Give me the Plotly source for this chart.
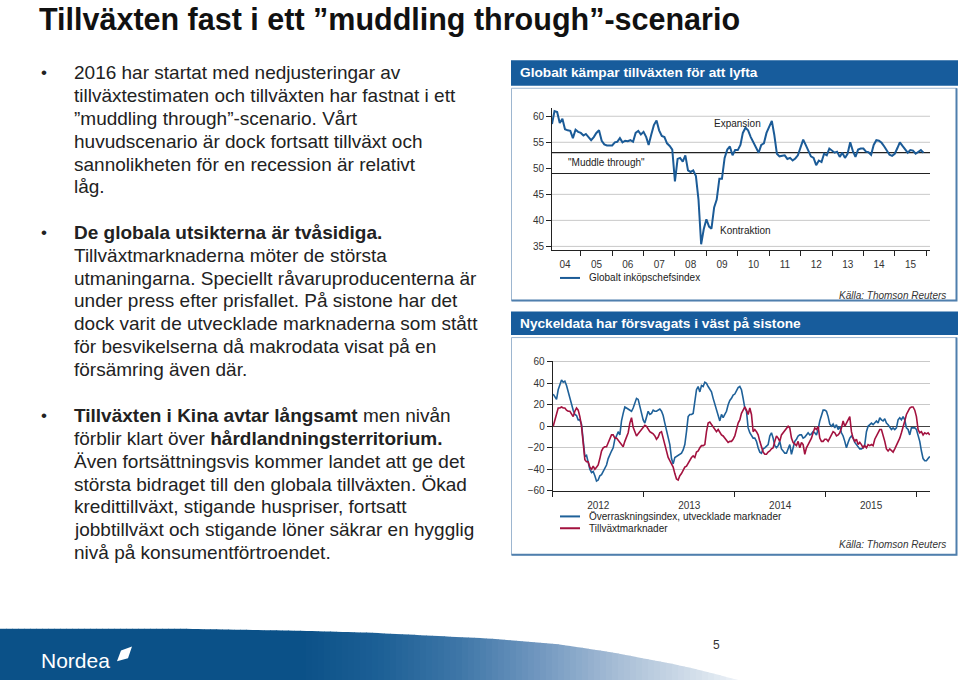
import numpy as np
import pandas as pd
import plotly.graph_objects as go

W, H = 960, 686
FONT = "Liberation Sans, Arial, sans-serif"
TITLE_FONT = "Liberation Sans, Arial, sans-serif"

# ---------------- data ----------------
# Global PMI, monthly from Feb 2004 to Dec 2015
pmi_start = "2004-02-01"
pmi_2004 = [58.5, 61.0, 60.8, 58.7, 59.5, 57.5, 57.3, 57.2, 55.8, 57.4, 57.0]
pmi_2005 = [56.8, 56.3, 56.6, 56.0, 55.4, 56.0, 56.8, 57.3, 55.3, 54.6, 54.4, 54.4]
pmi_2006 = [54.4, 55.0, 55.1, 55.8, 55.0, 55.3, 55.2, 55.4, 55.1, 56.8, 57.2, 56.5]
pmi_2007 = [57.0, 56.0, 54.5, 56.5, 58.3, 59.2, 57.3, 56.2, 56.0, 54.8, 54.3, 53.6]
pmi_2008 = [47.5, 51.8, 52.0, 51.3, 52.5, 49.6, 49.3, 49.6, 48.5, 44.0, 35.4, 38.3]
pmi_2009 = [40.2, 38.8, 38.4, 42.5, 44.0, 48.0, 48.0, 52.0, 53.6, 54.2, 52.5, 53.5]
pmi_2010 = [53.5, 54.5, 56.8, 57.8, 57.3, 56.0, 55.0, 54.2, 53.0, 54.5, 54.8, 56.8]
pmi_2011 = [58.0, 59.1, 56.5, 52.8, 52.3, 52.4, 52.5, 51.8, 52.0, 51.5, 51.9, 52.5]
pmi_2012 = [54.1, 55.5, 54.5, 53.4, 52.3, 52.0, 50.6, 51.5, 51.2, 52.8, 52.5, 53.8]
pmi_2013 = [53.3, 53.0, 53.2, 52.2, 53.0, 52.0, 52.8, 55.0, 53.3, 52.2, 53.6, 53.8]
pmi_2014 = [53.8, 53.2, 53.1, 52.6, 54.5, 55.4, 55.3, 54.9, 54.2, 53.3, 52.6, 52.4]
pmi_2015 = [52.8, 53.9, 55.0, 54.3, 53.7, 53.0, 53.5, 53.4, 52.8, 53.2, 53.5, 53.0]
pmi_values = (pmi_2004 + pmi_2005 + pmi_2006 + pmi_2007 + pmi_2008 + pmi_2009 +
              pmi_2010 + pmi_2011 + pmi_2012 + pmi_2013 + pmi_2014 + pmi_2015)
pmi_dates = pd.date_range(pmi_start, periods=len(pmi_values), freq="MS")

pmi_ticks = [35, 40, 45, 50, 55, 60]
pmi_grid = [35, 40, 45, 55, 60]
muddle_band = [49, 53]

# Economic surprise indices, roughly weekly, Jan 2012 - Feb 2016
surprise_start = "2012-01-03"
surprise_end = "2016-02-23"
dev_surprise = [
    30, 28, 25, 34, 38, 43, 41, 42, 38, 32,
    26, 21, 15, 11, 10, 6, 6, 2, -14, -28,
    -27, -33, -40, -43, -42, -46, -51, -50, -46, -45,
    -42, -40, -36, -30, -26, -23, -20, -12, -9, -5,
    -8, 5, 12, 18, 17, 16, 15, 14, 17, 22,
    26, 25, 18, 12, 6, 3, 8, 14, 11, 12,
    15, 14, 14, 15, 16, 14, 10, 3, -3, -11,
    -17, -30, -35, -29, -28, -27,
    -26, -25, -22, -17, -5, 9, 11, 11, 12, 22,
    34, 37, 32, 38, 37, 41, 40, 37, 35, 32,
    26, 21, 15, 11, 5, 11, 8, 11, 14, 20,
    24, 26, 29, 30, 33, 36, 37, 34, 26, 17,
    14, -1.5, -6, -9, -11, -11, -14, -20, -24, -25,
    -21, -20, -18, -17, -9, -6, -11, -18, -20, -18,
    -14, -21, -23, -25, -25, -21, -17, -26, -20, -14,
    -12, -9, -8, -8, -11, -10, -8, -6, -8, -7,
    -5,
    -6, -8, -3, 5, 11, 15, 15, 14, 9, 2,
    0, 2, -1.5, 1.5, -3, 0, -6, -9, -14, -20,
    -15, -11, -9, -11, -15, -17, -20, -21, -21, -20,
    -17, -5, 0, 1.5, 3, 1.5, 3, 5, 3, 8,
    6, 5, 7, 3, 1.5, -1.5, -3, -1.5, -3, -1.5,
    6, 8, 6, 9, 6, -1.5, -3, -8, -1.5, -1.5,
    -1.5, -3, -8, -14, -23, -30, -32, -32, -30, -28,
]
em_surprise = [
    0, 6, 12, 17, 17, 18, 17, 17, 15, 14,
    14, 11, 9, 14, 17, 15, 9, 0, -15, -31,
    -33, -33, -38, -40, -37, -40, -38, -36, -30, -23,
    -20, -19, -19, -15, -11, -8, -8, -11, -11, -13,
    -15, -17, -19, -14, -10, -6, 3, 8, -1, -6,
    -9, -7, -5, -2, 0, 1, 0, -3, -5, -6,
    -7, -9, -12, -10, -6, -5, -11, -18, -25, -29,
    -32, -35, -38, -44, -49, -50,
    -46, -44, -41, -38, -37, -34, -32, -29, -27.5, -29,
    -24, -23, -20, -18, -18, -17, -5, 3, 4, 1.5,
    0, -3, -5, -3, -6, -8, -9, -11, -14, -15,
    -14, -14, -12, -9, -3, 3, 6, 12, 15, 18,
    15, 11, 17, 11, -5, -3, -5, -8, -14, -20,
    -24, -26, -26, -24, -23, -21, -20, -14, -9, -11,
    -14, -8, -6, -3, -1.5, 0, -1.5, -11, -15, -17,
    -18, -14, -20, -15, -17, -26, -20, -17, -14, -11,
    -6,
    -1.5, -3, 0, -11, -14, -14, -12, -12, -14, -11,
    -8, -5, -6, -9, -8, -6, -1.5, 5, 0, 3,
    6, 9, -5, -11, -14, -12, -17, -15, -17, -20,
    -18, -20, -17, -18, -17, -18, -12, -9, -5, -3,
    -3, -8, -14, -21, -23, -21, -23, -24, -21, -18,
    -15, -11, -6, -1.5, 5, 11, 14, 17, 18, 18,
    15, 9, -3, -6, -5, -8, -6, -7, -6, -8,
]
surprise_dates = pd.date_range(surprise_start, surprise_end, periods=len(dev_surprise))
surprise_ticks = [-60, -40, -20, 0, 20, 40, 60]

# ---------------- helpers (pixel -> paper) ----------------
def px(x):
    return x / W

def py(y):
    return 1 - y / H

BLUE = "#1b5b97"
RED = "#a3123f"
HEAD = "#175c9c"
TXT = "#222222"

fig = go.Figure()
fig.add_trace(go.Scatter(x=pmi_dates, y=pmi_values, mode="lines",
                         line=dict(color=BLUE, width=2), xaxis="x", yaxis="y",
                         name="Globalt inköpschefsindex", showlegend=False))
fig.add_trace(go.Scatter(x=surprise_dates, y=dev_surprise, mode="lines",
                         line=dict(color="#1f6199", width=1.6), xaxis="x2", yaxis="y2",
                         name="Överraskningsindex, utvecklade marknader", showlegend=False))
fig.add_trace(go.Scatter(x=surprise_dates, y=em_surprise, mode="lines",
                         line=dict(color=RED, width=1.6), xaxis="x2", yaxis="y2",
                         name="Tillväxtmarknader", showlegend=False))

tickfont = dict(family=FONT, size=10, color="#333")
common_axis = dict(showline=True, linecolor="#222", linewidth=1, ticks="outside",
                   ticklen=5, tickcolor="#222", zeroline=False, tickfont=tickfont,
                   fixedrange=True)

fig.update_layout(
    width=W, height=H, margin=dict(l=0, r=0, t=0, b=0),
    paper_bgcolor="white", plot_bgcolor="rgba(0,0,0,0)",
    showlegend=False,
    xaxis=dict(domain=[px(552), px(930)], anchor="y", type="date",
               range=["2004-02-01", "2016-02-15"], tick0="2004-01-01", dtick="M12",
               ticklabelmode="period", tickformat="%y", showgrid=False, **common_axis),
    yaxis=dict(domain=[py(250), py(106)], anchor="x", range=[34.24, 61.5],
               tickvals=pmi_ticks, showgrid=False, **common_axis),
    xaxis2=dict(domain=[px(552.7), px(930)], anchor="y2", type="date",
                range=["2012-01-01", "2016-02-24"], tick0="2012-01-01", dtick="M12",
                ticklabelmode="period", tickformat="%Y", showgrid=False, **common_axis),
    yaxis2=dict(domain=[py(494), py(362)], anchor="x2", range=[-60, 61],
                tickvals=surprise_ticks, showgrid=True, gridcolor="#c9c9c9", gridwidth=1,
                **{k: v for k, v in common_axis.items() if k != "zeroline"},
                zeroline=True, zerolinecolor="#444", zerolinewidth=1.2),
)

shapes = []
ann = []

# ---------- footer swoosh (decoration) ----------
sw_x = [0, 180, 300, 370, 490, 560, 612, 674, 700, 738]
sw_y = [634, 634, 636, 638, 644, 650, 658, 670, 676, 686]
col_x = [0, 300, 380, 460, 540, 620, 700, 738]
col_rgb = np.array([[11, 81, 136], [11, 81, 136], [29, 96, 150], [63, 119, 168],
                    [114, 152, 192], [169, 191, 215], [214, 225, 236], [238, 243, 248]])
step = 6
for x0 in range(0, 738, step):
    x1 = min(x0 + step, 738)
    yt0 = np.interp(x0, sw_x, sw_y)
    yt1 = np.interp(x1, sw_x, sw_y)
    xm = (x0 + x1) / 2
    r, g, b = [int(np.interp(xm, col_x, col_rgb[:, k])) for k in range(3)]
    shapes.append(dict(type="path", xref="paper", yref="paper", layer="below",
                       path=f"M{px(x0)},{py(yt0)} L{px(x1 + 0.6)},{py(yt1)} L{px(x1 + 0.6)},0 L{px(x0)},0 Z",
                       fillcolor=f"rgb({r},{g},{b})", line=dict(width=0)))
# Nordea sail mark
shapes.append(dict(type="path", xref="paper", yref="paper",
                   path=f"M{px(117)},{py(667)} L{px(121)},{py(656)} L{px(132)},{py(652)} L{px(128)},{py(664)} Z",
                   fillcolor="white", line=dict(width=0)))
ann.append(dict(text="Nordea", x=px(39), y=py(666), xref="paper", yref="paper",
                xanchor="left", yanchor="middle", showarrow=False,
                font=dict(family=FONT, size=21, color="white")))
ann.append(dict(text="5", x=px(716), y=py(650), xref="paper", yref="paper",
                xanchor="center", yanchor="middle", showarrow=False,
                font=dict(family=FONT, size=12, color="#333")))

# ---------- title ----------
ann.append(dict(text="<b>Tillväxten fast i ett ”muddling through”-scenario</b>",
                x=px(37), y=py(16), xref="paper", yref="paper", xanchor="left",
                yanchor="middle", showarrow=False,
                font=dict(family=TITLE_FONT, size=30.5, color="#111")))

# ---------- bullet texts ----------
bullets = [
    (70, ["2016 har startat med nedjusteringar av",
          "tillväxtestimaten och tillväxten har fastnat i ett",
          "”muddling through”-scenario. Vårt",
          "huvudscenario är dock fortsatt tillväxt och",
          "sannolikheten för en recession är relativt",
          "låg."]),
    (232, ["<b>De globala utsikterna är tvåsidiga.</b>",
           "Tillväxtmarknaderna möter de största",
           "utmaningarna. Speciellt råvaruproducenterna är",
           "under press efter prisfallet. På sistone har det",
           "dock varit de utvecklade marknaderna som stått",
           "för besvikelserna då makrodata visat på en",
           "försämring även där."]),
    (418, ["<b>Tillväxten i Kina avtar långsamt</b> men nivån",
           "förblir klart över <b>hårdlandningsterritorium.</b>",
           "Även fortsättningsvis kommer landet att ge det",
           "största bidraget till den globala tillväxten. Ökad",
           "kredittillväxt, stigande huspriser, fortsatt",
           "jobbtillväxt och stigande löner säkrar en hygglig",
           "nivå på konsumentförtroendet."]),
]
for y0, lines in bullets:
    ann.append(dict(text="•", x=px(39), y=py(y0), xref="paper", yref="paper",
                    xanchor="left", yanchor="middle", showarrow=False,
                    font=dict(family=FONT, size=17, color=TXT)))
    for i, line in enumerate(lines):
        ann.append(dict(text=line, x=px(72), y=py(y0 + i * 23.1), xref="paper", yref="paper",
                        xanchor="left", yanchor="middle", showarrow=False,
                        font=dict(family=FONT, size=19, color=TXT)))

# ---------- chart panels ----------
def panel(htop, hbot, bottom, src_y, title):
    shapes.append(dict(type="rect", xref="paper", yref="paper", layer="below",
                       x0=px(511), x1=px(958), y0=py(hbot), y1=py(htop),
                       fillcolor=HEAD, line=dict(width=0)))
    shapes.append(dict(type="rect", xref="paper", yref="paper", layer="below",
                       x0=px(511.5), x1=px(956.5), y0=py(bottom), y1=py(hbot + 2.5),
                       fillcolor="rgba(0,0,0,0)", line=dict(color="#9db6d0", width=1)))
    shapes.append(dict(type="path", xref="paper", yref="paper", layer="below",
                       path=f"M{px(956.5)},{py(hbot + 2.5)} L{px(956.5)},{py(bottom)} L{px(511.5)},{py(bottom)}",
                       line=dict(color="#4f7fad", width=2)))
    ann.append(dict(text=f"<b>{title}</b>", x=px(518), y=py((htop + hbot) / 2),
                    xref="paper", yref="paper", xanchor="left", yanchor="middle",
                    showarrow=False, font=dict(family=FONT, size=13.7, color="white")))
    ann.append(dict(text="<i>Källa: Thomson Reuters</i>", x=px(948), y=py(src_y),
                    xref="paper", yref="paper", xanchor="right", yanchor="middle",
                    showarrow=False, font=dict(family=FONT, size=10, color="#333")))

panel(57, 83, 301, 296, "Globalt kämpar tillväxten för att lyfta")
panel(312, 336, 559, 548, "Nyckeldata har försvagats i väst på sistone")

# chart 1 gridlines and band
for v in pmi_grid:
    shapes.append(dict(type="line", xref="x domain", yref="y", x0=0, x1=1, y0=v, y1=v,
                       layer="below", line=dict(color="#c9c9c9", width=1)))
for v in muddle_band:
    shapes.append(dict(type="line", xref="x domain", yref="y", x0=0, x1=1, y0=v, y1=v,
                       layer="below", line=dict(color="#222", width=1.2)))

lab = dict(xref="paper", yref="paper", showarrow=False,
           font=dict(family=FONT, size=10, color="#222"))
ann.append(dict(text="Expansion", x=px(737), y=py(121), xanchor="center", yanchor="middle", **lab))
ann.append(dict(text="\"Muddle through\"", x=px(566), y=py(161), xanchor="left", yanchor="middle", **lab))
ann.append(dict(text="Kontraktion", x=px(718), y=py(230), xanchor="left", yanchor="middle", **lab))

# legends (drawn as key line + text)
def legend_item(y, color, text):
    shapes.append(dict(type="line", xref="paper", yref="paper", x0=px(560), x1=px(580),
                       y0=py(y), y1=py(y), line=dict(color=color, width=2)))
    ann.append(dict(text=text, x=px(587), y=py(y), xanchor="left", yanchor="middle", **lab))

legend_item(278, BLUE, "Globalt inköpschefsindex")
legend_item(520, "#1f6199", "Överraskningsindex, utvecklade marknader")
legend_item(532, RED, "Tillväxtmarknader")

fig.update_layout(shapes=shapes, annotations=ann)
fig.write_html("out.html")
